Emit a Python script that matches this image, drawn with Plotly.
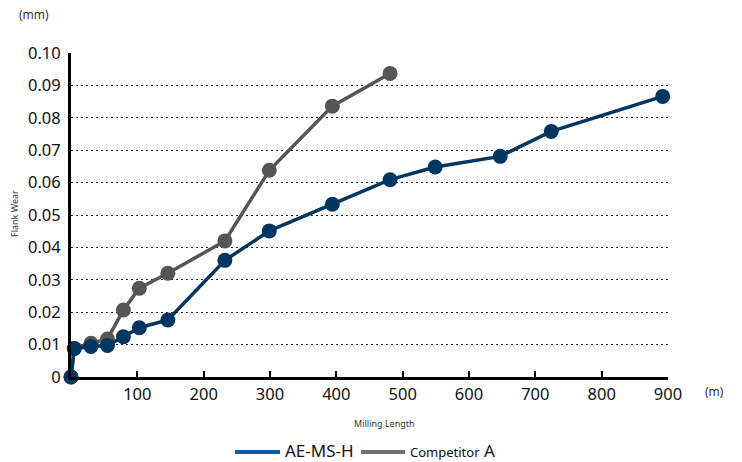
import plotly.graph_objects as go

# Data
ae_x = [0, 5, 30, 55, 79, 103, 146, 232, 299, 394, 481, 549, 647, 724, 892]
ae_y = [0.0, 0.0088, 0.0094, 0.0097, 0.0124, 0.0152, 0.0176, 0.0360, 0.0451, 0.0533, 0.0609, 0.0648, 0.0681, 0.0758, 0.0866]
comp_x = [0, 5, 30, 55, 79, 103, 146, 232, 299, 394, 481]
comp_y = [0.0, 0.0088, 0.0104, 0.0117, 0.0207, 0.0274, 0.0320, 0.0420, 0.0638, 0.0836, 0.0937]
x_ticks = [100, 200, 300, 400, 500, 600, 700, 800, 900]
y_ticks = [0, 0.01, 0.02, 0.03, 0.04, 0.05, 0.06, 0.07, 0.08, 0.09, 0.10]
y_tick_text = ["0", "0.01", "0.02", "0.03", "0.04", "0.05", "0.06", "0.07", "0.08", "0.09", "0.10"]
series_names = ["AE-MS-H", "Competitor A"]

FONT = "Noto Sans"
navy = "#00365f"
gray = "#555555"

W, H = 742, 462
L, R, T, B = 71, 74, 53, 85
PW, PH = W - L - R, H - T - B


def px(X):
    return (X - L) / PW


def py(Y):
    return (H - B - Y) / PH


fig = go.Figure()
fig.add_trace(go.Scatter(x=comp_x, y=comp_y, mode="lines+markers", name=series_names[1],
                         line=dict(color=gray, width=3.5),
                         marker=dict(color=gray, size=15),
                         showlegend=False, cliponaxis=False))
fig.add_trace(go.Scatter(x=ae_x, y=ae_y, mode="lines+markers", name=series_names[0],
                         line=dict(color=navy, width=3.5),
                         marker=dict(color=navy, size=15),
                         showlegend=False, cliponaxis=False))

fig.update_layout(
    width=W, height=H,
    margin=dict(l=L, r=R, t=T, b=B, autoexpand=False),
    plot_bgcolor="white", paper_bgcolor="white",
    font=dict(family=FONT, color="#111111", size=16),
    xaxis=dict(range=[0, 900], tickvals=x_ticks, ticks="inside", ticklen=6,
               tickwidth=2, tickcolor="black", showline=True, linecolor="black",
               linewidth=3, showgrid=False, zeroline=False, automargin=False,
               tickfont=dict(size=16.5, family=FONT)),
    yaxis=dict(range=[0, 0.1], tickvals=y_ticks, ticktext=y_tick_text,
               showline=True, linecolor="black", linewidth=3, automargin=False,
               showgrid=True, gridcolor="#222222", griddash="2px,3px", gridwidth=1.3,
               zeroline=False, ticks="", ticklabelstandoff=4,
               tickfont=dict(size=16.5, family=FONT)),
    showlegend=False,
)

annots = [
    dict(text="(mm)", x=34, y=15, size=12, angle=0, anchor="center"),
    dict(text="(m)", x=714, y=391, size=12, angle=0, anchor="center"),
    dict(text="Flank Wear", x=14, y=214, size=9, angle=-90, anchor="center"),
    dict(text="Milling Length", x=384, y=423, size=9, angle=0, anchor="center"),
]
for a in annots:
    fig.add_annotation(text=a["text"], x=px(a["x"]), y=py(a["y"]),
                       xref="paper", yref="paper", showarrow=False,
                       textangle=a["angle"], xanchor=a["anchor"], yanchor="middle",
                       font=dict(size=a["size"], color="#333333", family=FONT))

# manual legend
fig.add_shape(type="line", xref="paper", yref="paper", x0=px(235), x1=px(280),
              y0=py(452), y1=py(452), line=dict(color="#0d5aa7", width=4))
fig.add_annotation(text=series_names[0], x=px(283), y=py(451), xref="paper", yref="paper",
                   showarrow=False, xanchor="left", yanchor="middle",
                   font=dict(size=17, color="#111111", family=FONT))
fig.add_shape(type="line", xref="paper", yref="paper", x0=px(361), x1=px(405),
              y0=py(452), y1=py(452), line=dict(color="#707070", width=4))
fig.add_annotation(text="<span style='font-size:13px'>Competitor</span> A",
                   x=px(408), y=py(451), xref="paper", yref="paper",
                   showarrow=False, xanchor="left", yanchor="middle",
                   font=dict(size=17, color="#111111", family=FONT))

fig.write_html("out.html", config={"displayModeBar": False},
               post_script="document.body.style.margin='0';document.body.style.overflow='hidden';")
